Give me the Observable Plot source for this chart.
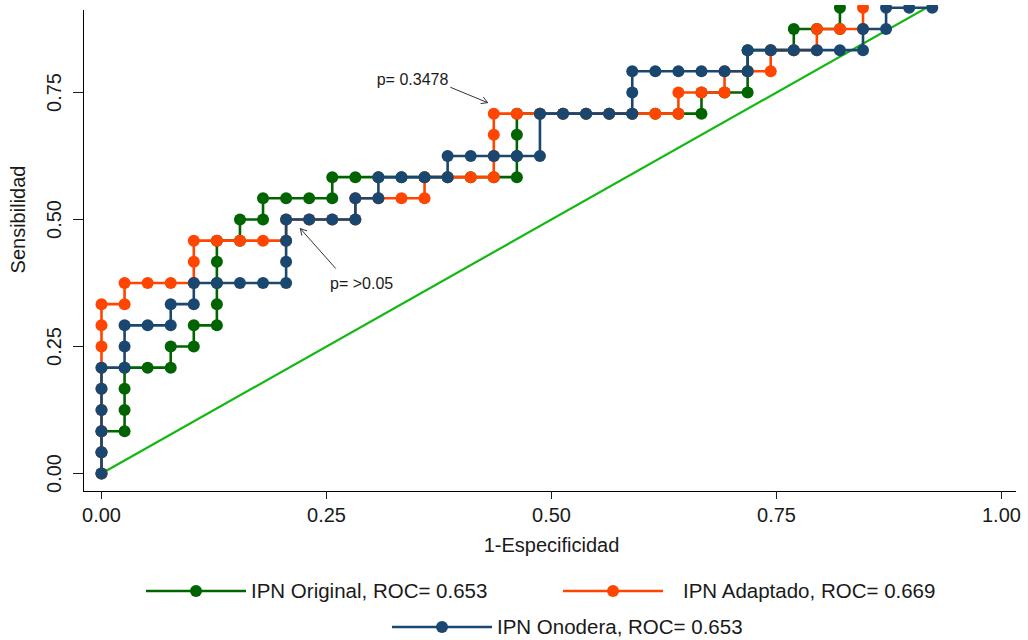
<!DOCTYPE html>
<html><head><meta charset="utf-8">
<script src="https://cdn.jsdelivr.net/npm/d3@7"></script>
<script src="https://cdn.jsdelivr.net/npm/@observablehq/plot@0.6"></script>
<style>
body{margin:0;background:#fff;font-family:"Liberation Sans",Arial,sans-serif;}
#wrap{position:relative;width:1028px;height:640px;overflow:hidden;}
.leg{position:absolute;display:flex;align-items:center;font-size:20.5px;line-height:24px;color:#1a1a1a;white-space:nowrap;}
.leg svg{display:block;}
</style></head><body><div id="wrap"></div>
<script>
// Totals of negatives / positives (steps of the ROC staircases)
const nNeg = 39, nPos = 24;

// IPN Original (false positives, true positives counts)
const origFP = [0,0,0,1,1,1,1,2,3,3,4,4,5,5,5,5,5,6,6,7,7,8,9,10,10,11,12,13,14,15,16,17,18,18,18,18,19,20,21,22,23,24,25,26,26,27,28,28,28,29,30,30,31,32,32];
const origTP = [0,1,2,2,3,4,5,5,5,6,6,7,7,8,9,10,11,11,12,12,13,13,13,13,14,14,14,14,14,14,14,14,14,15,16,17,17,17,17,17,17,17,17,17,18,18,18,19,20,20,20,21,21,21,22];

// IPN Adaptado
const adapFP = [0,0,0,0,0,0,0,0,0,1,1,2,3,4,4,4,5,6,7,8,8,9,10,11,11,12,13,14,14,15,16,17,17,17,17,18,19,20,21,22,23,24,25,25,26,27,27,28,29,29,30,31,31,32,33,33];
const adapTP = [0,1,2,3,4,5,6,7,8,8,9,9,9,9,10,11,11,11,11,11,12,12,12,12,13,13,13,13,14,14,14,14,15,16,17,17,17,17,17,17,17,17,17,18,18,18,19,19,19,20,20,20,21,21,21,22];

// IPN Onodera
const onodFP = [0,0,0,0,0,0,1,1,1,2,3,3,4,4,5,6,7,8,8,8,8,9,10,11,11,12,12,13,14,15,15,16,17,18,19,19,20,21,22,23,23,23,24,25,26,27,28,28,29,30,31,32,33,33,34,34,35,36];
const onodTP = [0,1,2,3,4,5,5,6,7,7,7,8,8,9,9,9,9,9,10,11,12,12,12,12,13,13,14,14,14,14,15,15,15,15,15,17,17,17,17,17,18,19,19,19,19,19,19,20,20,20,20,20,20,21,21,22,22,22];

const seriesNames = ["IPN Original, ROC= 0.653", "IPN Adaptado, ROC= 0.669", "IPN Onodera, ROC= 0.653"];
const seriesColors = ["#006400", "#ff4500", "#1a476f"];
const chance = [0, 1];
const chanceColor = "#12b812";
const xTicks = [0, 0.25, 0.5, 0.75, 1];
const yTicks = [0, 0.25, 0.5, 0.75];
const xTitle = "1-Especificidad";
const yTitle = "Sensibilidad";

// annotations (data space)
const notes = [
  {text: "p= 0.3478", tx: 0.3456, ty: 0.774, x1: 0.388, y1: 0.760, x2: 0.429, y2: 0.730},
  {text: "p= >0.05", tx: 0.289, ty: 0.374, x1: 0.260, y1: 0.404, x2: 0.221, y2: 0.482}
];

const fpLists = [origFP, adapFP, onodFP];
const tpLists = [origTP, adapTP, onodTP];
const data = seriesNames.map((name, s) => fpLists[s].map((f, k) => ({name, x: f / nNeg, y: tpLists[s][k] / nPos})));

const X0 = -0.02, X1 = 1.0167, Y0 = -0.0354, Y1 = 0.9212, YAXTOP = 0.9114;
const fmt = d3.format(".2f");

const marks = [
  Plot.line(chance, {x: d => d, y: d => d, stroke: chanceColor, strokeWidth: 2.2, clip: true})
];
data.forEach((rows, s) => {
  marks.push(Plot.line(rows, {x: "x", y: "y", stroke: seriesColors[s], strokeWidth: 2.6, clip: true}));
  marks.push(Plot.dot(rows, {x: "x", y: "y", r: 6, fill: seriesColors[s], stroke: "none", clip: true}));
});
marks.push(
  Plot.ruleY([Y0], {x1: X0, x2: X1, stroke: "#000", strokeWidth: 1}),
  Plot.ruleX([X0], {y1: Y0, y2: YAXTOP, stroke: "#000", strokeWidth: 1}),
  Plot.axisX(xTicks, {tickSize: 8, tickPadding: 8, tickFormat: fmt, fontSize: 20, label: null}),
  Plot.axisY(yTicks, {tickSize: 10, tickPadding: 13, tickRotate: -90, tickFormat: fmt, fontSize: 20, label: null}),
  Plot.text([xTitle], {x: 0.5, frameAnchor: "bottom", lineAnchor: "middle", dy: 54, text: d => d, fontSize: 20, fill: "#1a1a1a"}),
  Plot.text([yTitle], {y: 0.5, frameAnchor: "left", textAnchor: "middle", lineAnchor: "middle", dx: -65, rotate: -90, text: d => d, fontSize: 20, fill: "#1a1a1a"}),
  Plot.arrow(notes, {x1: "x1", y1: "y1", x2: "x2", y2: "y2", stroke: "#333", strokeWidth: 1, headLength: 10}),
  Plot.text(notes, {x: "tx", y: "ty", text: "text", fontSize: 16, fill: "#1a1a1a"})
);

const chart = Plot.plot({
  width: 1028, height: 560,
  marginLeft: 83, marginRight: 12, marginTop: 5, marginBottom: 69,
  x: {domain: [X0, X1], label: null},
  y: {domain: [Y0, Y1], label: null},
  style: {fontFamily: "'Liberation Sans', Arial, sans-serif", fontSize: "20px", color: "#1a1a1a", background: "#fff", overflow: "visible"},
  marks
});
const wrap = document.getElementById("wrap");
wrap.appendChild(chart);

// Legend below the SVG
const legPos = [[146, 579, 5], [563, 579, 20], [392, 615, 5]];
seriesNames.forEach((name, s) => {
  const div = document.createElement("div");
  div.className = "leg";
  div.style.left = legPos[s][0] + "px";
  div.style.top = legPos[s][1] + "px";
  div.innerHTML = `<svg width="100" height="24"><line x1="0" y1="12" x2="100" y2="12" stroke="${seriesColors[s]}" stroke-width="2.6"/><circle cx="50" cy="12" r="6" fill="${seriesColors[s]}"/></svg><span style="margin-left:${legPos[s][2]}px">${name}</span>`;
  wrap.appendChild(div);
});
</script></body></html>
